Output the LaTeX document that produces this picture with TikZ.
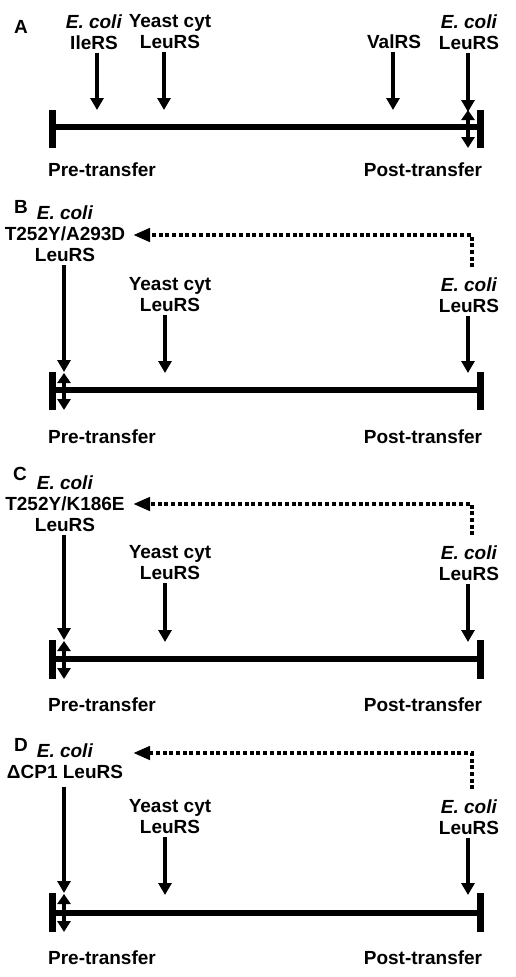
\documentclass[tikz,border=0pt]{standalone}
\usepackage{fontspec}
\setmainfont{Liberation Sans}
\usetikzlibrary{arrows.meta}

\begin{document}
\begin{tikzpicture}[x=1pt, y=-1pt,
    lbl/.style={font=\fontsize{19}{21}\selectfont\bfseries, align=center, inner sep=3pt},
    arr/.style={line width=4pt, -{Triangle[width=13pt,length=12pt]}},
    dblarr/.style={line width=4pt, {Triangle[width=13pt,length=10pt]}-{Triangle[width=13pt,length=11pt]}},
    dotarr/.style={line width=4.5pt, dash pattern=on 4pt off 2.7pt, -{Triangle[width=13pt,length=17pt]}},
    axis/.style={line width=6pt},
    bar/.style={line width=7pt}]
        \useasboundingbox (0,0) rectangle (515,977);

        % A
        \node[lbl] (tagA) at (21,27) {A};
        \node[lbl] (aIle) at (94,32) {\textit{E. coli}\\IleRS};
        \node[lbl] (aYeast) at (170,32) {Yeast cyt\\LeuRS};
        \node[lbl] (aVal) at (394,42) {ValRS};
        \node[lbl] (aEco) at (469,32) {\textit{E. coli}\\LeuRS};
        \node[lbl] (aPre) at (102,170) {Pre-transfer};
        \node[lbl] (aPost) at (423,170) {Post-transfer};
        \coordinate (aIleTip) at (97,110);
        \coordinate (aYeastTip) at (164,110);
        \coordinate (aValTip) at (393,110);
        \coordinate (aEcoTip) at (468,112);
        \draw[axis] (52,127) -- (480,127);
        \draw[bar] (52,110) -- (52,148);
        \draw[bar] (480,110) -- (480,148);
        \draw[arr] (aIle.south -| aIleTip) -- (aIleTip);
        \draw[arr] (aYeast.south -| aYeastTip) -- (aYeastTip);
        \draw[arr] (aVal.south -| aValTip) -- (aValTip);
        \draw[arr] (aEco.south -| aEcoTip) -- (aEcoTip);
        \draw[dblarr] (468,110) -- (468,148);

        % B
        \node[lbl] (tagB) at (21,207) {B};
        \node[lbl] (bMut) at (65,234) {\textit{E. coli}\\T252Y/A293D\\LeuRS};
        \node[lbl] (bYeast) at (170,295) {Yeast cyt\\LeuRS};
        \node[lbl] (bEco) at (469,295) {\textit{E. coli}\\LeuRS};
        \node[lbl] (bPre) at (102,437) {Pre-transfer};
        \node[lbl] (bPost) at (423,437) {Post-transfer};
        \coordinate (bMutTip) at (64,372);
        \coordinate (bYeastTip) at (165,373);
        \coordinate (bEcoTip) at (468,373);
        \coordinate (bBack) at (133,235);
        \draw[axis] (52,390) -- (480,390);
        \draw[bar] (52,372) -- (52,410);
        \draw[bar] (480,372) -- (480,410);
        \draw[arr] (bMut.south -| bMutTip) -- (bMutTip);
        \draw[arr] (bYeast.south -| bYeastTip) -- (bYeastTip);
        \draw[arr] (bEco.south -| bEcoTip) -- (bEcoTip);
        \draw[dblarr] (64,373) -- (64,410);
        \draw[dotarr] ([shift={(3,-7)}]bEco.north) |- (bBack);

        % C
        \node[lbl] (tagC) at (20,474) {C};
        \node[lbl] (cMut) at (65,504) {\textit{E. coli}\\T252Y/K186E\\LeuRS};
        \node[lbl] (cYeast) at (170,563) {Yeast cyt\\LeuRS};
        \node[lbl] (cEco) at (469,563) {\textit{E. coli}\\LeuRS};
        \node[lbl] (cPre) at (102,705) {Pre-transfer};
        \node[lbl] (cPost) at (423,705) {Post-transfer};
        \coordinate (cMutTip) at (64,640);
        \coordinate (cYeastTip) at (165,642);
        \coordinate (cEcoTip) at (468,642);
        \coordinate (cBack) at (133,504);
        \draw[axis] (52,659) -- (480,659);
        \draw[bar] (52,640) -- (52,679);
        \draw[bar] (480,640) -- (480,679);
        \draw[arr] (cMut.south -| cMutTip) -- (cMutTip);
        \draw[arr] (cYeast.south -| cYeastTip) -- (cYeastTip);
        \draw[arr] (cEco.south -| cEcoTip) -- (cEcoTip);
        \draw[dblarr] (64,641) -- (64,679);
        \draw[dotarr] ([shift={(3,-7)}]cEco.north) |- (cBack);

        % D
        \node[lbl] (tagD) at (21,745) {D};
        \node[lbl] (dMut) at (65,761) {\textit{E. coli}\\ΔCP1 LeuRS};
        \node[lbl] (dYeast) at (170,817) {Yeast cyt\\LeuRS};
        \node[lbl] (dEco) at (469,817) {\textit{E. coli}\\LeuRS};
        \node[lbl] (dPre) at (102,958) {Pre-transfer};
        \node[lbl] (dPost) at (423,958) {Post-transfer};
        \coordinate (dMutTip) at (64,893);
        \coordinate (dYeastTip) at (165,895);
        \coordinate (dEcoTip) at (468,895);
        \coordinate (dBack) at (133,753);
        \draw[axis] (52,913) -- (480,913);
        \draw[bar] (52,893) -- (52,932);
        \draw[bar] (480,893) -- (480,932);
        \draw[arr] ([yshift=-5pt]dMut.south -| dMutTip) -- (dMutTip);
        \draw[arr] (dYeast.south -| dYeastTip) -- (dYeastTip);
        \draw[arr] (dEco.south -| dEcoTip) -- (dEcoTip);
        \draw[dblarr] (64,894) -- (64,932);
        \draw[dotarr] ([shift={(3,-7)}]dEco.north) |- (dBack);
\end{tikzpicture}
\end{document}
